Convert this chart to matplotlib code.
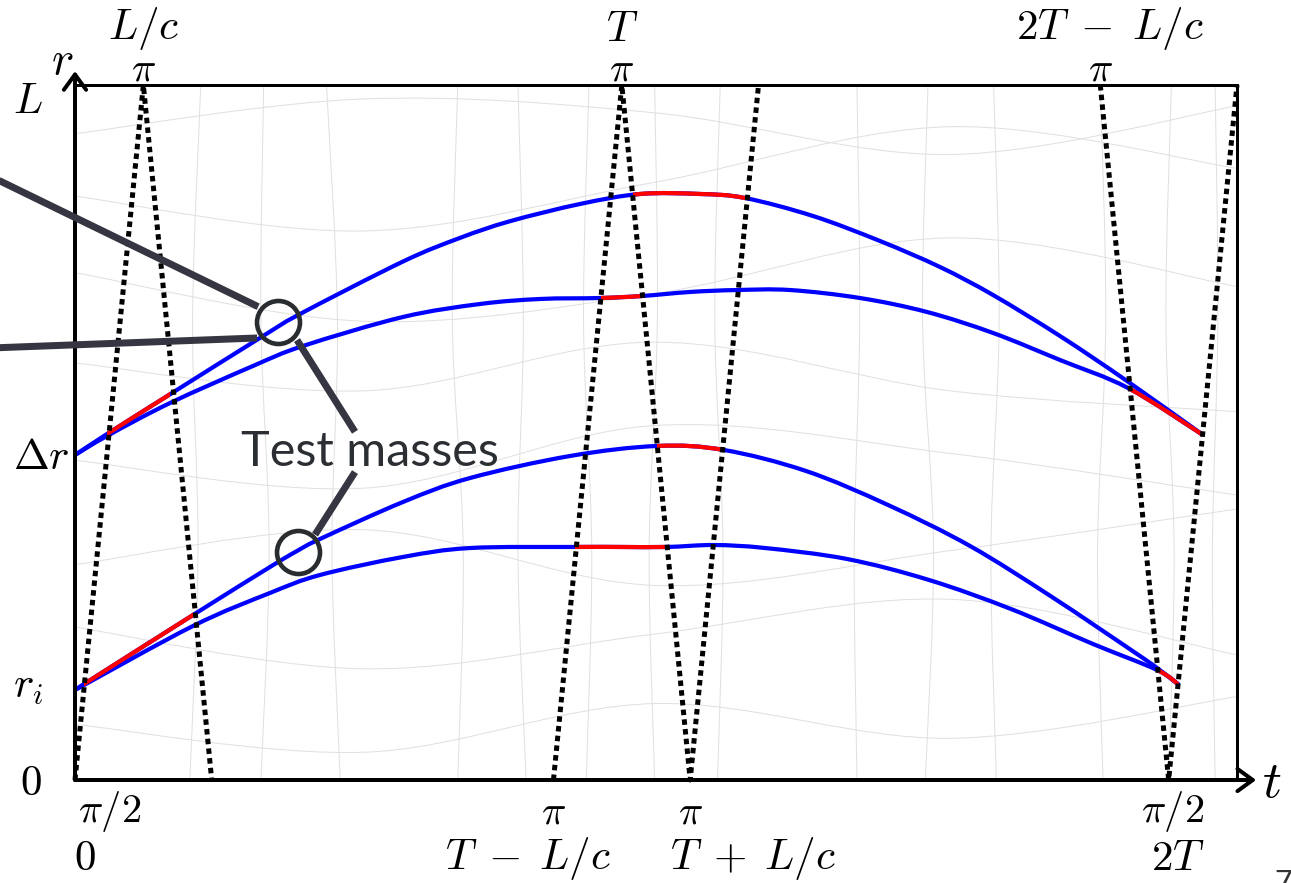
import numpy as np
import matplotlib
matplotlib.use("Agg")
import matplotlib.pyplot as plt
from matplotlib.path import Path
from matplotlib.patches import PathPatch, Rectangle

plt.rcParams['mathtext.fontset'] = 'cm'
plt.rcParams['font.family'] = ['Lato', 'DejaVu Sans']

# ---------------- data ----------------
T = 1.0
Lc = 0.125
L = 1.0
r_i = 0.132
dr = 0.468

# light rays (t, r vertices)
ray1_t = [0.0, Lc, 2 * Lc]
ray1_r = [0.0, L, 0.0]
ray2_t = [T - Lc, T, T + Lc, T + 2 * Lc]
ray2_r = [0.0, L, 0.0, L]
ray3_t = [2 * T - Lc, 2 * T, 2 * T + Lc]
ray3_r = [L, 0.0, L]

# test-mass world lines
curveA_t = [0.0, 0.0585, 0.1774, 0.3438, 0.4115, 0.5998, 0.7041, 0.7955, 0.9236, 1.0333,
            1.1430, 1.2253, 1.3497, 1.4722, 1.5819, 1.6789, 1.8014, 1.9239, 2.0629]
curveA_r = [0.4676, 0.4978, 0.5568, 0.6388, 0.6705, 0.7460, 0.7800, 0.8040, 0.8288, 0.8432,
            0.8432, 0.8374, 0.8115, 0.7755, 0.7381, 0.6978, 0.6388, 0.5741, 0.4964]

curveB_t = [0.0, 0.0585, 0.1737, 0.3255, 0.4170, 0.5998, 0.7407, 0.8504, 0.9601, 1.0369,
            1.1247, 1.2107, 1.3076, 1.4356, 1.5581, 1.6789, 1.8014, 1.9258, 2.0629]
curveB_r = [0.4676, 0.4950, 0.5424, 0.5957, 0.6245, 0.6662, 0.6849, 0.6921, 0.6935, 0.6964,
            0.7022, 0.7050, 0.7050, 0.6935, 0.6734, 0.6432, 0.6043, 0.5640, 0.4964]

curveC_t = [0.0, 0.0165, 0.2158, 0.3566, 0.4060, 0.4481, 0.5998, 0.7224, 0.9053, 1.0644,
            1.1869, 1.3369, 1.4868, 1.6368, 1.7867, 1.9367, 1.9788, 2.0190]
curveC_r = [0.1295, 0.1381, 0.2374, 0.3065, 0.3295, 0.3468, 0.4000, 0.4345, 0.4662, 0.4806,
            0.4748, 0.4446, 0.3957, 0.3367, 0.2633, 0.1842, 0.1612, 0.1367]

curveD_t = [0.0, 0.2158, 0.3566, 0.4481, 0.5998, 0.7224, 0.9126, 0.9967, 1.0827, 1.1686,
            1.2619, 1.4118, 1.5618, 1.7118, 1.8617, 1.9788, 2.0190]
curveD_r = [0.1295, 0.2216, 0.2691, 0.2950, 0.3209, 0.3338, 0.3353, 0.3353, 0.3353, 0.3381,
            0.3338, 0.3180, 0.2878, 0.2460, 0.1957, 0.1583, 0.1367]

# red (light-in-flight) intervals on each world line
redA = [(0.0586, 0.174), (1.02, 1.228)]
redB = [(0.962, 1.038), (1.929, 2.063)]
redC = [(0.0165, 0.216), (1.065, 1.186)]
redD = [(0.915, 1.083), (1.979, 2.019)]

# tick labels
bottom_t = [0.0, T - Lc, T + Lc, 2 * T]
bottom_phase = [r'$\pi/2$', r'$\pi$', r'$\pi$', r'$\pi/2$']
bottom_time = [r'$0$', r'$T\;-\;L/c$', r'$T\;+\;L/c$', r'$2T$']
top_t = [Lc, T, 2 * T - Lc]
top_phase = [r'$\pi$', r'$\pi$', r'$\pi$']
top_time = [r'$L/c$', r'$T$', r'$2T\;-\;L/c$']
left_r = [0.0, r_i, dr, L]
left_labels = [r'$0$', r'$r_i$', r'$\Delta r$', r'$L$']

# faint background texture (distorted grid)
bg_v_r = [1.0, 0.66, 0.33, 0.0]
bg_v = [
    [0.23, 0.215, 0.225, 0.21],
    [0.345, 0.34, 0.355, 0.34],
    [0.46, 0.48, 0.47, 0.485],
    [0.70, 0.69, 0.71, 0.70],
    [0.81, 0.82, 0.81, 0.825],
    [0.94, 0.93, 0.945, 0.935],
    [1.06, 1.065, 1.05, 1.06],
    [1.18, 1.17, 1.185, 1.175],
    [1.43, 1.435, 1.425, 1.43],
    [1.56, 1.55, 1.57, 1.555],
    [1.68, 1.69, 1.675, 1.685],
    [1.875, 1.885, 1.87, 1.88],
    [2.005, 1.995, 2.01, 2.0],
    [2.085, 2.09, 2.08, 2.085],
]
bg_h_t = [0.0, 0.53, 1.06, 1.6, 2.125]
bg_h = [
    [0.93, 0.98, 0.96, 0.90, 0.97],
    [0.84, 0.79, 0.86, 0.94, 0.88],
    [0.73, 0.66, 0.70, 0.78, 0.71],
    [0.60, 0.56, 0.63, 0.56, 0.53],
    [0.46, 0.42, 0.51, 0.47, 0.41],
    [0.31, 0.36, 0.28, 0.33, 0.39],
    [0.22, 0.16, 0.21, 0.26, 0.18],
    [0.08, 0.04, 0.11, 0.06, 0.12],
]

# annotation geometry (data coords)
circle_pts = [(0.371, 0.659), (0.408, 0.328)]
pointer_lines = [
    [(-0.14, 0.863), (0.335, 0.681)],
    [(-0.14, 0.622), (0.333, 0.636)],
    [(0.406, 0.633), (0.512, 0.501)],
    [(0.512, 0.443), (0.439, 0.353)],
]
label_pos = (0.540, 0.472)

# ---------------- figure ----------------
W, H = 1291, 883
fig = plt.figure(figsize=(W / 100, H / 100), dpi=100)
ax = fig.add_axes([75 / W, (H - 780) / H, (1237 - 75) / W, 695 / H])
tmax = 2 * T + Lc
ax.set_xlim(0, tmax)
ax.set_ylim(0, L)
ax.axis('off')

px = 72 / 100  # points per pixel


def smooth_path(ts, rs):
    """Bezier path (Catmull-Rom style) passing through the read points."""
    P = np.column_stack([ts, rs]).astype(float)
    n = len(P)
    verts = [P[0]]
    codes = [Path.MOVETO]
    for i in range(n - 1):
        p0 = P[i - 1] if i > 0 else P[i]
        p1, p2 = P[i], P[i + 1]
        p3 = P[i + 2] if i + 2 < n else P[i + 1]
        c1 = p1 + (p2 - p0) / 6.0
        c2 = p2 - (p3 - p1) / 6.0
        verts += [c1, c2, p2]
        codes += [Path.CURVE4] * 3
    return Path(np.array(verts), codes)


grey = '#e0e0e0'
for tv in bg_v:
    ax.add_patch(PathPatch(smooth_path(tv, bg_v_r), fill=False, ec=grey, lw=1.0 * px, zorder=0))
for rv in bg_h:
    ax.add_patch(PathPatch(smooth_path(bg_h_t, rv), fill=False, ec=grey, lw=1.0 * px, zorder=0))


def draw_curve(ts, rs, reds):
    path = smooth_path(ts, rs)
    ax.add_patch(PathPatch(path, fill=False, ec='#0000ff', lw=4.2 * px,
                           capstyle='butt', joinstyle='round', zorder=3))
    for a, b in reds:
        pp = PathPatch(path, fill=False, ec='#ff0000', lw=4.2 * px,
                       capstyle='butt', joinstyle='round', zorder=4)
        ax.add_patch(pp)
        clip = Rectangle((a, -0.1), b - a, 1.2, transform=ax.transData)
        pp.set_clip_path(clip)


draw_curve(curveB_t, curveB_r, redB)
draw_curve(curveA_t, curveA_r, redA)
draw_curve(curveD_t, curveD_r, redD)
draw_curve(curveC_t, curveC_r, redC)

# light rays
for rt, rr in [(ray1_t, ray1_r), (ray2_t, ray2_r), (ray3_t, ray3_r)]:
    ax.plot(rt, rr, color='black', lw=5.0 * px, dashes=(1.1, 0.85),
            dash_capstyle='butt', zorder=5, clip_on=False)

# frame
ax.plot([0, tmax], [L, L], color='black', lw=3 * px, zorder=6, clip_on=False,
        solid_capstyle='projecting')
ax.plot([tmax, tmax], [0, L], color='black', lw=3 * px, zorder=6, clip_on=False,
        solid_capstyle='projecting')
arrow_kw = dict(arrowstyle='->,head_length=0.55,head_width=0.4', lw=4 * px,
                color='black', shrinkA=0, shrinkB=0, mutation_scale=20)
ax.annotate('', xy=(0, 1.02), xytext=(0, 0), arrowprops=arrow_kw, annotation_clip=False)
ax.annotate('', xy=(2.16, 0), xytext=(0, 0), arrowprops=arrow_kw, annotation_clip=False)

# axis labels
ax.annotate(r'$r$', xy=(0, L), xytext=(-13, 24), textcoords='offset pixels',
            ha='center', va='center', fontsize=34, annotation_clip=False)
ax.annotate(r'$t$', xy=(tmax, 0), xytext=(35, -2), textcoords='offset pixels',
            ha='center', va='center', fontsize=38, annotation_clip=False)

# tick labels
phase_fs = 29
time_fs = 31
bottom_phase_dx = [35, 0, 0, 4]
bottom_time_dx = [10, -25, 63, 9]
for t, lab, dx in zip(bottom_t, bottom_phase, bottom_phase_dx):
    ax.annotate(lab, xy=(t, 0), xytext=(dx, -32), textcoords='offset pixels',
                ha='center', va='center', fontsize=phase_fs, annotation_clip=False)
for t, lab, dx in zip(bottom_t, bottom_time, bottom_time_dx):
    ax.annotate(lab, xy=(t, 0), xytext=(dx, -78), textcoords='offset pixels',
                ha='center', va='center', fontsize=time_fs, annotation_clip=False)
top_time_dx = [0, 0, 10]
for t, lab in zip(top_t, top_phase):
    ax.annotate(lab, xy=(t, L), xytext=(0, 16), textcoords='offset pixels',
                ha='center', va='center', fontsize=phase_fs, annotation_clip=False)
for t, lab, dx in zip(top_t, top_time, top_time_dx):
    ax.annotate(lab, xy=(t, L), xytext=(dx, 56), textcoords='offset pixels',
                ha='center', va='center', fontsize=time_fs, annotation_clip=False)
left_dy = [-3, 0, -2, -16]
left_dx = [-55, -62, -62, -62]
for r, lab, dx, dy in zip(left_r, left_labels, left_dx, left_dy):
    ax.annotate(lab, xy=(0, r), xytext=(dx, dy), textcoords='offset pixels',
                ha='left', va='center', fontsize=time_fs, annotation_clip=False)

# test-mass annotation
ann_col = '#363643'
for (p, q) in pointer_lines:
    ax.plot([p[0], q[0]], [p[1], q[1]], color=ann_col, lw=7 * px,
            solid_capstyle='butt', zorder=7, clip_on=False)
for (ct, cr) in circle_pts:
    ax.plot([ct], [cr], marker='o', ms=43 * px, mfc='none', mec='#2a2d30',
            mew=4.6 * px, zorder=8)
ax.text(label_pos[0], label_pos[1], 'Test masses', fontsize=35, color='#2b2f33',
        ha='center', va='center', zorder=9)

fig.text(1283 / W, 0.0, '7', ha='center', va='center', fontsize=22, color='#333333')

fig.savefig('out.png', dpi=100)
